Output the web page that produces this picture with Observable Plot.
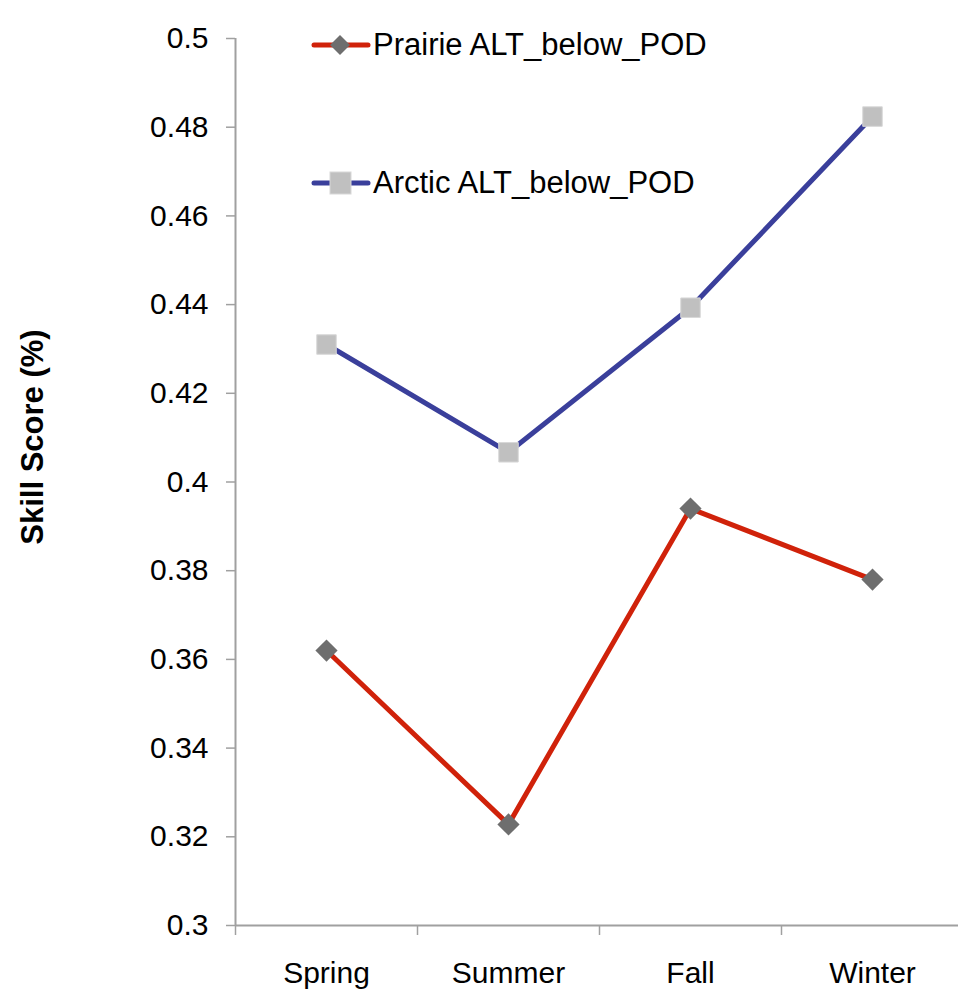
<!DOCTYPE html>
<html>
<head>
<meta charset="utf-8">
<script src="https://cdn.jsdelivr.net/npm/d3@7"></script>
<script src="https://cdn.jsdelivr.net/npm/@observablehq/plot@0.6"></script>
<style>
  body { margin: 0; background: #fff; font-family: "Liberation Sans", Arial, sans-serif; }
  #wrap { position: relative; width: 958px; height: 997px; }
  #legend { position: absolute; left: 311px; top: 0; font-size: 31px; color: #000; }
  .item { position: absolute; display: flex; align-items: center; white-space: nowrap; }
</style>
</head>
<body>
<div id="wrap">
  <div id="chart"></div>
  <div id="legend"></div>
</div>
<script>
const seasons = ["Spring", "Summer", "Fall", "Winter"];
const prairie = [0.362, 0.3228, 0.394, 0.378];
const arctic = [0.431, 0.4067, 0.4393, 0.4824];
const yTicks = [0.3, 0.32, 0.34, 0.36, 0.38, 0.4, 0.42, 0.44, 0.46, 0.48, 0.5];
const yTickLabels = ["0.3", "0.32", "0.34", "0.36", "0.38", "0.4", "0.42", "0.44", "0.46", "0.48", "0.5"];
const seriesNames = ["Prairie ALT_below_POD", "Arctic ALT_below_POD"];
const yTitle = "Skill Score (%)";

const rows = [];
seasons.forEach((s, i) => {
  rows.push({series: seriesNames[0], idx: i + 0.5, value: prairie[i]});
  rows.push({series: seriesNames[1], idx: i + 0.5, value: arctic[i]});
});
const prairieRows = rows.filter(d => d.series === seriesNames[0]);
const arcticRows = rows.filter(d => d.series === seriesNames[1]);

const red = "#d0220a";
const blue = "#3a3f9b";
const axisGray = "#a0a0a0";

const chart = Plot.plot({
  width: 958,
  height: 997,
  marginLeft: 235,
  marginRight: 0,
  marginTop: 38,
  marginBottom: 72,
  style: {fontFamily: "'Liberation Sans', Arial, sans-serif", fontSize: "30px", color: "#000", background: "#fff"},
  x: {type: "linear", domain: [0, 4], range: [235, 963]},
  y: {domain: [0.3, 0.5]},
  marks: [
    Plot.ruleX([0], {stroke: axisGray, strokeWidth: 2}),
    Plot.ruleY([0.3], {stroke: axisGray, strokeWidth: 2, x1: 0, x2: 4}),
    Plot.axisY({ticks: yTicks, tickFormat: (d) => yTickLabels[yTicks.indexOf(d)], tickSize: 9, tickPadding: 18, stroke: axisGray, strokeWidth: 1.5, fill: "#000", fontSize: 30, label: null}),
    Plot.text([yTitle], {frameAnchor: "left", text: d => d, rotate: -90, dx: -202, dy: -45, fontSize: 31, fontWeight: "bold", fill: "#000", textAnchor: "middle"}),
    Plot.axisX({ticks: [0, 1, 2, 3], tickSize: 10, tickFormat: () => "", stroke: axisGray, strokeWidth: 1.5, label: null}),
    Plot.axisX({ticks: seasons.map((s, i) => i + 0.5), tickFormat: (d) => seasons[Math.floor(d)], tickSize: 0, tickPadding: 36, fontSize: 30, fill: "#000", label: null}),
    Plot.line(arcticRows, {x: "idx", y: "value", stroke: blue, strokeWidth: 5}),
    Plot.line(prairieRows, {x: "idx", y: "value", stroke: red, strokeWidth: 5}),
    Plot.dot(arcticRows, {x: "idx", y: "value", symbol: "square", r: 11, fill: "#c0c0c0", stroke: "#d8d8d8", strokeWidth: 1}),
    Plot.dot(prairieRows, {x: "idx", y: "value", symbol: "diamond2", r: 10, fill: "#6e6e6e", stroke: "none"})
  ]
});
document.getElementById("chart").appendChild(chart);

// Legend (inside plot area, top-left)
const legend = document.getElementById("legend");
const items = [
  {name: seriesNames[0], color: red, marker: "diamond", top: 27},
  {name: seriesNames[1], color: blue, marker: "square", top: 165}
];
for (const it of items) {
  const div = document.createElement("div");
  div.className = "item";
  div.style.top = it.top + "px";
  const markerSvg = it.marker === "diamond"
    ? `<polygon points="29,8 39,18 29,28 19,18" fill="#6e6e6e"/>`
    : `<rect x="19" y="7" width="21" height="22" fill="#c0c0c0" stroke="#d8d8d8"/>`;
  div.innerHTML = `<svg width="60" height="36" style="display:block"><line x1="3" y1="18" x2="57" y2="18" stroke="${it.color}" stroke-width="5" stroke-linecap="round"/>${markerSvg}</svg><span style="margin-left:2px">${it.name}</span>`;
  legend.appendChild(div);
}
</script>
</body>
</html>
